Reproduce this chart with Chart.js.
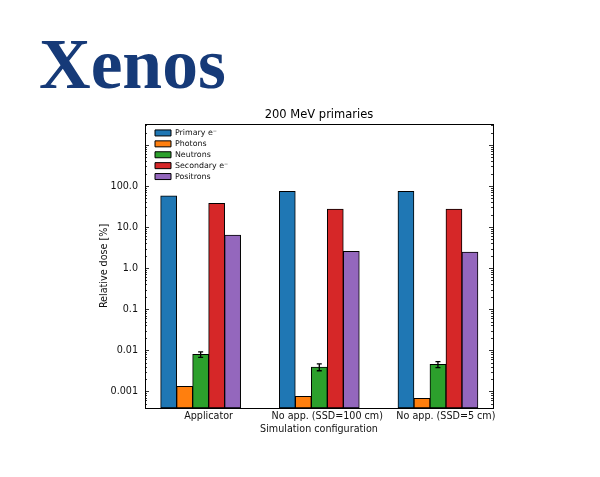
<!DOCTYPE html>
<html>
<head>
<meta charset="utf-8">
<script src="https://cdn.jsdelivr.net/npm/chart.js@4.4.1/dist/chart.umd.min.js"></script>
<style>
  html, body { margin: 0; padding: 0; background: #fff; }
  #wrap { position: relative; width: 600px; height: 477px; }
  #chart { position: absolute; left: 0; top: 0; }
  #logo { position: absolute; left: 39px; top: 28px; font: bold 71.5px "Liberation Serif", serif; line-height: 1; color: #163a78; }
</style>
</head>
<body>
<div id="wrap">
  <canvas id="chart" width="600" height="477"></canvas>
  <div id="logo">Xenos</div>
</div>
<script>
// values (relative dose, %)
const configs = ['Applicator', 'No app. (SSD=100 cm)', 'No app. (SSD=5 cm)']
const seriesNames = ['Primary e\u207B', 'Photons', 'Neutrons', 'Secondary e\u207B', 'Positrons']
const seriesColors = ['#1f77b4', '#ff7f0e', '#2ca02c', '#d62728', '#9467bd']
const primary = [58, 74, 74]
const photons = [0.00132, 0.000755, 0.000675]
const neutrons = [0.0079, 0.0039, 0.0045]
const neutronErr = [0.0012, 0.00075, 0.00075]
const secondary = [37.8, 27.5, 27.5]
const positrons = [6.4, 2.55, 2.45]
const yTickValues = [0.001, 0.01, 0.1, 1, 10, 100]
const yTickLabels = ['0.001', '0.01', '0.1', '1.0', '10.0', '100.0']

const seriesValues = [primary, photons, neutrons, secondary, positrons]
// tick labels sit half a bar right of the group centre
const labelShift = 0.067

const datasets = seriesValues.map((vals, k) => ({
  label: seriesNames[k],
  data: vals.map((v, i) => ({x: i, y: v})),
  backgroundColor: seriesColors[k],
  borderColor: '#000',
  borderWidth: 1,
  borderSkipped: false,
  barThickness: 16,
  errorBars: k === 2 ? neutronErr : null
}))

const isDecade = v => Math.abs(Math.log10(v) - Math.round(Math.log10(v))) < 1e-9

const frameAndTicks = {
  id: 'frameAndTicks',
  afterDatasetsDraw(chart) {
    const {ctx, chartArea: a} = chart
    const y = chart.scales.y
    ctx.save()
    ctx.strokeStyle = '#000'
    ctx.lineWidth = 0.8
    y.ticks.forEach(t => {
      const py = Math.round(y.getPixelForValue(t.value)) + 0.5
      const len = isDecade(t.value) ? 4 : 2
      ctx.beginPath()
      ctx.moveTo(a.left, py); ctx.lineTo(a.left + len, py)
      ctx.moveTo(a.right, py); ctx.lineTo(a.right - len, py)
      ctx.stroke()
    })
    ctx.lineWidth = 1
    ctx.strokeRect(Math.round(a.left) + 0.5, Math.round(a.top) + 0.5, Math.round(a.right - a.left), Math.round(a.bottom - a.top))
    // error bars
    ctx.lineWidth = 1.3
    chart.data.datasets.forEach((ds, k) => {
      if (!ds.errorBars) return
      chart.getDatasetMeta(k).data.forEach((bar, i) => {
        const v = ds.data[i].y, e = ds.errorBars[i]
        const y1 = y.getPixelForValue(v + e), y2 = y.getPixelForValue(v - e)
        ctx.beginPath()
        ctx.moveTo(bar.x, y1); ctx.lineTo(bar.x, y2)
        ctx.moveTo(bar.x - 2.5, y1); ctx.lineTo(bar.x + 2.5, y1)
        ctx.moveTo(bar.x - 2.5, y2); ctx.lineTo(bar.x + 2.5, y2)
        ctx.stroke()
      })
    })
    ctx.restore()
  }
}

// legend inside the plot (upper left) and title centred over the plot
const placeBoxes = {
  id: 'placeBoxes',
  beforeDraw(chart) {
    const a = chart.chartArea
    if (chart.legend) {
      chart.legend.left = a.left + 7
      chart.legend.top = a.top + 2
    }
    if (chart.titleBlock) {
      chart.titleBlock.left = a.left
      chart.titleBlock.right = a.right
    }
  }
}

Chart.defaults.font.family = 'DejaVu Sans'
Chart.defaults.color = '#111'

new Chart(document.getElementById('chart'), {
  type: 'bar',
  data: {datasets},
  plugins: [frameAndTicks, placeBoxes],
  options: {
    responsive: false,
    animation: false,
    layout: {padding: {left: 0, right: 107, top: 0, bottom: 0}},
    plugins: {
      title: {
        display: true,
        text: '200 MeV primaries',
        color: '#000',
        font: {size: 11.5, weight: 'normal'},
        padding: {top: 108.1, bottom: 2.1}
      },
      legend: {
        position: 'chartArea',
        align: 'start',
        labels: {
          boxWidth: 16,
          boxHeight: 6,
          padding: 3,
          color: '#111',
          font: {size: 7.9}
        }
      },
      tooltip: {enabled: false}
    },
    scales: {
      x: {
        type: 'linear',
        offset: false,
        bounds: 'data',
        min: -0.469,
        max: 2.464,
        grid: {display: false, drawTicks: false, offset: false},
        border: {display: false},
        afterBuildTicks: s => { s.ticks = configs.map((c, i) => ({value: i + labelShift})) },
        afterFit: s => { s.height = 69 },
        ticks: {
          autoSkip: false,
          maxRotation: 0,
          padding: 3,
          font: {size: 9.6},
          callback: (v, i) => configs[i]
        },
        title: {
          display: true,
          text: 'Simulation configuration',
          font: {size: 9.6},
          padding: {top: 0, bottom: 42.2}
        }
      },
      y: {
        type: 'logarithmic',
        min: 0.00039,
        max: 3250,
        grid: {display: false, drawTicks: false},
        border: {display: false},
        afterBuildTicks: s => {
          const ticks = []
          for (let k = -4; k <= 3; k++) {
            for (let m = 1; m <= 9; m++) {
              const v = Number((m * Math.pow(10, k)).toPrecision(10))
              if (v >= s.min && v <= s.max) ticks.push({value: v, major: m === 1})
            }
          }
          s.ticks = ticks
        },
        afterFit: s => { s.width = 145 },
        ticks: {
          autoSkip: false,
          padding: 7,
          font: {size: 9.6},
          callback: v => {
            const i = yTickValues.findIndex(t => Math.abs(t - v) / t < 1e-6)
            return i >= 0 ? yTickLabels[i] : ''
          }
        },
        title: {
          display: true,
          text: 'Relative dose [%]',
          font: {size: 9.6},
          padding: {top: 99.2, bottom: 0}
        }
      }
    }
  }
})
</script>
</body>
</html>
